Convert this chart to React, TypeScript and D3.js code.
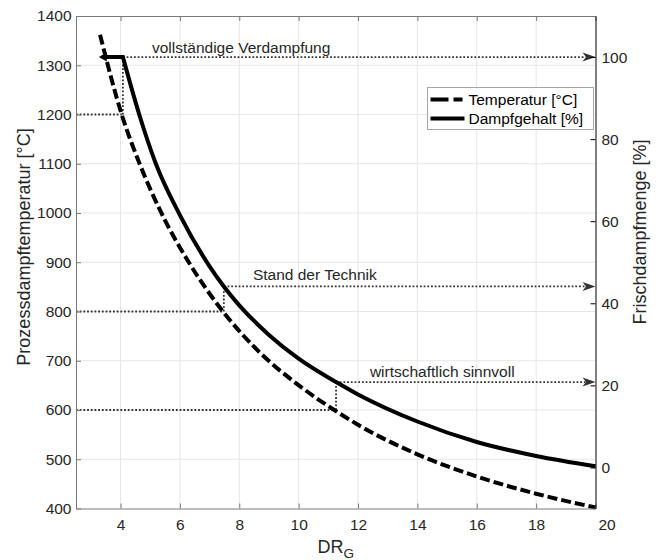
import { useEffect, useRef } from 'react';
import * as d3 from 'd3';

// Prozessdampftemperatur over DR_G (dashed, left axis)
const tempDR = [3.31, 4.04, 4.65, 5.4, 6.35, 7.45, 8.57, 10.05, 11.2, 12, 14, 16, 18, 20];
const tempC = [1362, 1200, 1099, 997, 895, 800, 724, 648, 600, 570, 510, 465, 430, 402];

// Dampfgehalt over DR_G (solid, right axis)
const steamDR = [3.37, 4.08, 4.63, 5.19, 6.0, 7.0, 7.48, 8.0, 9.0, 10.0, 11.26, 12, 14, 16, 18, 20];
const steamPct = [100, 100, 86, 74, 61.5, 49, 44.1, 39.5, 32.3, 26.5, 20.8, 17.8, 11.2, 6.2, 2.8, 0.3];

// marked operating points
const markDR = [4.08, 7.48, 11.26];
const markTemp = [1200, 800, 600];
const markPct = [100, 44.1, 20.8];
const markText = ['vollständige Verdampfung', 'Stand der Technik', 'wirtschaftlich sinnvoll'];

const xTicks = [4, 6, 8, 10, 12, 14, 16, 18, 20];
const leftTicks = [400, 500, 600, 700, 800, 900, 1000, 1100, 1200, 1300, 1400];
const rightTicks = [0, 20, 40, 60, 80, 100];

const FONT = '"Liberation Sans", Arial, Helvetica, sans-serif';
const TXT = '#262626';

export default function App() {
  const ref = useRef<SVGSVGElement>(null);

  useEffect(() => {
    drawChart();
  }, []);

  function drawChart() {
    const svg = d3.select(ref.current);
    svg.selectAll('*').remove();

    const W = 662, H = 560;
    const margin = { top: 16, right: 66.5, bottom: 51.5, left: 76 };
    const x = d3.scaleLinear().domain([2.5, 20]).range([margin.left, W - margin.right]);
    const yT = d3.scaleLinear().domain([400, 1400]).range([H - margin.bottom, margin.top]);
    const yP = d3.scaleLinear().domain([-10, 110]).range([H - margin.bottom, margin.top]);
    const x0 = margin.left, x1 = W - margin.right, yTop = margin.top, yBot = H - margin.bottom;

    // grid
    const grid = svg.append('g').attr('stroke', '#e6e6e6').attr('stroke-width', 1);
    grid.selectAll('line.v')
      .data(xTicks.filter(d => d < 20))
      .enter().append('line')
      .attr('x1', d => x(d)).attr('x2', d => x(d))
      .attr('y1', yTop).attr('y2', yBot);
    grid.selectAll('line.h')
      .data(leftTicks.filter(d => d > 400 && d < 1400))
      .enter().append('line')
      .attr('x1', x0).attr('x2', x1)
      .attr('y1', d => yT(d)).attr('y2', d => yT(d));

    // dotted guide lines + arrows
    const dotted = svg.append('g')
      .attr('stroke', '#333')
      .attr('stroke-width', 1.8)
      .attr('stroke-dasharray', '1.8 1.9')
      .attr('fill', 'none');
    markDR.forEach((dr, i) => {
      dotted.append('line')
        .attr('x1', x0).attr('x2', x(dr))
        .attr('y1', yT(markTemp[i])).attr('y2', yT(markTemp[i]));
      dotted.append('line')
        .attr('x1', x(dr)).attr('x2', x(dr))
        .attr('y1', yT(markTemp[i])).attr('y2', yP(markPct[i]));
      dotted.append('line')
        .attr('x1', x(dr)).attr('x2', x(20) - 10)
        .attr('y1', yP(markPct[i])).attr('y2', yP(markPct[i]));
      const ax = x(20), ay = yP(markPct[i]);
      svg.append('polygon')
        .attr('points', `${ax},${ay} ${ax - 13},${ay - 4.5} ${ax - 9.5},${ay} ${ax - 13},${ay + 4.5}`)
        .attr('fill', '#333');
    });

    // annotation texts
    const labelDR = [5.06, 8.46, 12.4];
    const labelUp = [10, 12, 11];
    markText.forEach((t, i) => {
      svg.append('text')
        .attr('x', x(labelDR[i]))
        .attr('y', yP(markPct[i]) - labelUp[i])
        .attr('dominant-baseline', 'central')
        .style('font-family', FONT)
        .style('font-size', '15.5px')
        .attr('fill', TXT)
        .text(t);
    });

    // temperature curve (dashed)
    const tempLine = d3.line<number>()
      .x((d, i) => x(tempDR[i]))
      .y(d => yT(d))
      .curve(d3.curveMonotoneX);
    svg.append('path')
      .attr('d', tempLine(tempC))
      .attr('fill', 'none')
      .attr('stroke', '#000')
      .attr('stroke-width', 4)
      .attr('stroke-dasharray', '10 4');

    // Dampfgehalt curve (plateau at 100 % then falling)
    const steamLine = d3.line<number>()
      .x((d, i) => x(steamDR[i + 1]))
      .y(d => yP(d))
      .curve(d3.curveMonotoneX);
    const rest = steamLine(steamPct.slice(1)) || '';
    svg.append('path')
      .attr('d', `M${x(steamDR[0])},${yP(steamPct[0])}L${rest.slice(1)}`)
      .attr('fill', 'none')
      .attr('stroke', '#000')
      .attr('stroke-width', 4)
      .attr('stroke-linejoin', 'miter');
    const px = x(steamDR[0]), py = yP(steamPct[0]);
    svg.append('polygon')
      .attr('points', `${px - 3},${py} ${px + 5},${py - 4.5} ${px + 5},${py + 4.5}`)
      .attr('fill', '#000');

    // axes
    const axisColor = '#7a7a7a';
    const left = svg.append('g')
      .attr('transform', `translate(${x0},0)`)
      .call(d3.axisLeft(yT).tickValues(leftTicks).tickFormat(d3.format('d'))
        .tickSize(-5).tickSizeOuter(0).tickPadding(4.5));
    const bottom = svg.append('g')
      .attr('transform', `translate(0,${yBot})`)
      .call(d3.axisBottom(x).tickValues(xTicks).tickSize(-5).tickSizeOuter(0).tickPadding(10));
    const top = svg.append('g')
      .attr('transform', `translate(0,${yTop})`)
      .call(d3.axisTop(x).tickValues(xTicks).tickSize(-5).tickSizeOuter(0).tickFormat(() => ''));
    const right = svg.append('g')
      .attr('transform', `translate(${x1},0)`)
      .call(d3.axisRight(yP).tickValues(rightTicks).tickSize(-5).tickSizeOuter(0).tickPadding(6));

    [left, bottom, top].forEach(g => g.attr('color', axisColor));
    right.attr('color', '#000');
    [left, bottom, right].forEach(g => {
      g.selectAll('text')
        .style('font-family', FONT)
        .style('font-size', '15.5px')
        .attr('fill', TXT);
    });
    // last x label sits right of the axis corner
    bottom.selectAll('text').filter(d => d === 20).attr('x', 11);

    // axis titles
    svg.append('text')
      .attr('transform', `translate(24,247) rotate(-90)`)
      .attr('text-anchor', 'middle')
      .attr('dominant-baseline', 'central')
      .style('font-family', FONT)
      .style('font-size', '18px')
      .attr('fill', TXT)
      .text('Prozessdampftemperatur [°C]');
    svg.append('text')
      .attr('transform', `translate(640,232) rotate(-90)`)
      .attr('text-anchor', 'middle')
      .attr('dominant-baseline', 'central')
      .style('font-family', FONT)
      .style('font-size', '18px')
      .attr('fill', TXT)
      .text('Frischdampfmenge [%]');
    const xl = svg.append('text')
      .attr('x', (x0 + x1) / 2)
      .attr('y', 553)
      .attr('text-anchor', 'middle')
      .style('font-family', FONT)
      .attr('fill', TXT);
    xl.append('tspan').style('font-size', '18px').text('DR');
    xl.append('tspan').style('font-size', '13.5px').attr('dy', 5).text('G');

    // legend
    const lg = svg.append('g').attr('transform', 'translate(427.5,87.5)');
    lg.append('rect')
      .attr('width', 166).attr('height', 42)
      .attr('fill', '#fff').attr('stroke', '#a6a6a6').attr('stroke-width', 1);
    lg.append('line')
      .attr('x1', 3).attr('x2', 37).attr('y1', 12).attr('y2', 12)
      .attr('stroke', '#000').attr('stroke-width', 4).attr('stroke-dasharray', '18 5 9');
    lg.append('line')
      .attr('x1', 3).attr('x2', 37).attr('y1', 31).attr('y2', 31)
      .attr('stroke', '#000').attr('stroke-width', 4);
    ['Temperatur [°C]', 'Dampfgehalt [%]'].forEach((t, i) => {
      lg.append('text')
        .attr('x', 41).attr('y', 12 + i * 19)
        .attr('dominant-baseline', 'central')
        .style('font-family', FONT)
        .style('font-size', '15.5px')
        .attr('fill', '#000')
        .text(t);
    });
  }

  return (
    <svg
      ref={ref}
      width={662}
      height={560}
      style={{ position: 'absolute', left: 0, top: 0, display: 'block', background: '#fff' }}
    />
  );
}
